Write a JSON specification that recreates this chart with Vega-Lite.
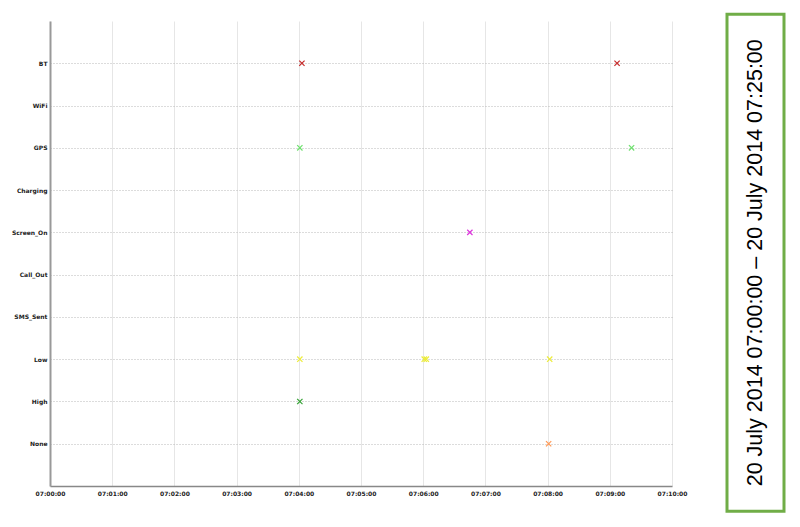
{
  "$schema": "https://vega.github.io/schema/vega-lite/v6.json",
  "padding": {"left": 11, "top": 12, "right": 5, "bottom": 5},
  "background": "white",
  "config": {"view": {"stroke": null}, "font": "DejaVu Sans", "concat": {"spacing": 38}},
  "center": true,
  "hconcat": [
    {
      "width": 622,
      "height": 465,
      "data": {"values": [
        {"sensor": "BT", "time": "2014-07-20T07:04:03"},
        {"sensor": "BT", "time": "2014-07-20T07:09:07"},
        {"sensor": "GPS", "time": "2014-07-20T07:04:01"},
        {"sensor": "GPS", "time": "2014-07-20T07:09:21"},
        {"sensor": "Screen_On", "time": "2014-07-20T07:06:45"},
        {"sensor": "Low", "time": "2014-07-20T07:04:01"},
        {"sensor": "Low", "time": "2014-07-20T07:06:01"},
        {"sensor": "Low", "time": "2014-07-20T07:06:03"},
        {"sensor": "Low", "time": "2014-07-20T07:08:02"},
        {"sensor": "High", "time": "2014-07-20T07:04:01"},
        {"sensor": "None", "time": "2014-07-20T07:08:01"}
      ]},
      "encoding": {
        "x": {
          "field": "time", "type": "temporal",
          "scale": {"domain": [{"year": 2014, "month": 7, "date": 20, "hours": 7, "minutes": 0}, {"year": 2014, "month": 7, "date": 20, "hours": 7, "minutes": 10}]},
          "axis": {
            "title": " ", "titleFontSize": 8, "titlePadding": 2,
            "format": "%H:%M:%S", "tickCount": 10,
            "labelFont": "DejaVu Sans", "labelFontWeight": "bold", "labelFontSize": 6, "labelColor": "#222",
            "labelFlush": false, "labelOverlap": false, "labelPadding": 4,
            "ticks": false, "domainColor": "#888", "domainWidth": 1.5,
            "grid": true, "gridColor": "#e6e6e6", "gridWidth": 1
          }
        },
        "y": {
          "field": "sensor", "type": "ordinal",
          "scale": {"type": "point", "padding": 1, "domain": ["BT", "WiFi", "GPS", "Charging", "Screen_On", "Call_Out", "SMS_Sent", "Low", "High", "None"]},
          "axis": {
            "title": null, "labelFont": "DejaVu Sans", "labelFontWeight": "bold", "labelFontSize": 6, "labelColor": "#222",
            "labelPadding": 3, "ticks": false, "domainColor": "#999", "domainWidth": 2,
            "grid": true, "gridDash": [1, 2], "gridColor": "#b8b8b8", "gridWidth": 1
          }
        },
        "color": {
          "field": "sensor", "type": "nominal", "legend": null,
          "scale": {
            "domain": ["BT", "WiFi", "GPS", "Charging", "Screen_On", "Call_Out", "SMS_Sent", "Low", "High", "None"],
            "range": ["#c62828", "#3366cc", "#6ee06e", "#999999", "#dd33dd", "#333333", "#333333", "#ecec3a", "#33a033", "#ff9955"]
          }
        }
      },
      "layer": [
        {"mark": {"type": "point", "shape": "stroke", "angle": 45, "filled": false, "size": 56, "strokeWidth": 1.2, "opacity": 1}},
        {"mark": {"type": "point", "shape": "stroke", "angle": -45, "filled": false, "size": 56, "strokeWidth": 1.2, "opacity": 1}}
      ]
    },
    {
      "width": 57,
      "height": 497,
      "view": {"stroke": "#70ad47", "strokeWidth": 3},
      "data": {"values": [{"label": "20 July 2014 07:00:00 – 20 July 2014 07:25:00"}]},
      "mark": {"type": "text", "angle": 270, "font": "Liberation Sans", "fontSize": 21.5, "align": "center", "baseline": "middle", "color": "#000000"},
      "encoding": {"text": {"field": "label", "type": "nominal"}}
    }
  ]
}
